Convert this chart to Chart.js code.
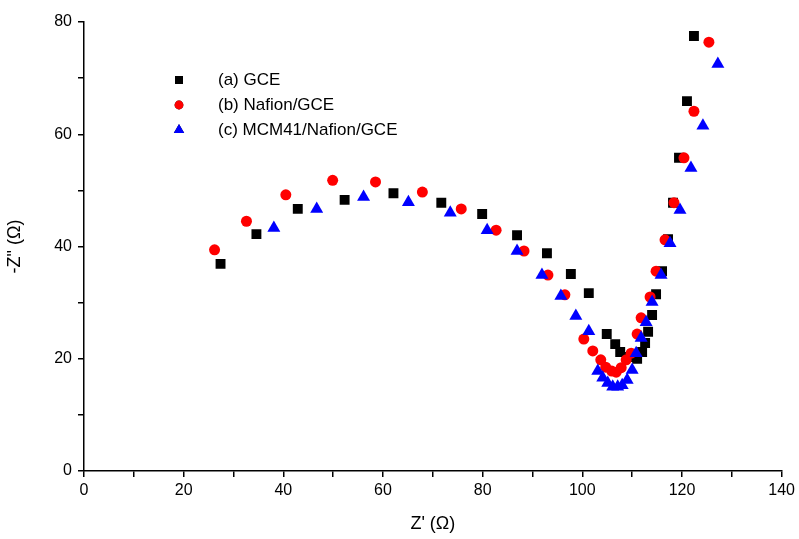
<!DOCTYPE html>
<html>
<head>
<meta charset="utf-8">
<script src="https://cdn.jsdelivr.net/npm/chart.js@4"></script>
<style>
  body { margin: 0; background: #fff; }
</style>
</head>
<body>
<canvas id="myChart" width="799" height="539"></canvas>
<script>
// Nyquist data (Z' and -Z'' in ohm)
const gceX = [27.4, 34.6, 42.9, 52.3, 62.1, 71.7, 79.9, 86.9, 92.9, 97.7, 101.3, 104.9, 106.6, 107.6, 109.4, 111.0, 112.0, 112.6, 113.2, 114.0, 114.8, 116.0, 117.2, 118.2, 119.4, 121.0, 122.4];
const gceY = [36.9, 42.2, 46.7, 48.3, 49.5, 47.8, 45.8, 42.0, 38.8, 35.1, 31.7, 24.4, 22.6, 21.2, 20.3, 20.0, 21.2, 22.8, 24.8, 27.8, 31.5, 35.6, 41.3, 47.8, 55.8, 65.9, 77.5];

const nafionX = [26.2, 32.6, 40.5, 49.9, 58.5, 67.9, 75.7, 82.7, 88.3, 93.1, 96.5, 100.3, 102.1, 103.7, 104.7, 105.9, 106.8, 107.8, 108.8, 109.8, 111.0, 111.8, 113.6, 114.8, 116.6, 118.4, 120.4, 122.4, 125.4];
const nafionY = [39.4, 44.5, 49.2, 51.8, 51.5, 49.7, 46.7, 42.9, 39.2, 34.9, 31.4, 23.5, 21.4, 19.8, 18.5, 17.8, 17.6, 18.4, 19.8, 21.0, 24.4, 27.3, 31.0, 35.6, 41.2, 47.8, 55.8, 64.1, 76.4];

const mcmX = [38.1, 46.7, 56.1, 65.1, 73.5, 80.9, 86.9, 91.9, 95.7, 98.7, 101.3, 103.1, 104.1, 105.1, 106.1, 107.1, 108.0, 109.0, 110.0, 110.8, 111.8, 112.8, 114.0, 115.8, 117.6, 119.6, 121.8, 124.2, 127.2];
const mcmY = [43.3, 46.7, 48.8, 47.9, 46.0, 42.9, 39.2, 34.9, 31.2, 27.6, 24.9, 17.8, 16.6, 15.7, 15.0, 15.0, 15.3, 16.2, 18.0, 21.0, 23.7, 26.5, 30.1, 34.9, 40.6, 46.5, 54.0, 61.5, 72.5];

const seriesLabels = ["(a) GCE", "(b) Nafion/GCE", "(c) MCM41/Nafion/GCE"];

const toPoints = (xs, ys) => xs.map((x, i) => ({ x: x, y: ys[i] }));

const ctx = document.getElementById('myChart').getContext('2d');

// legend drawn inside the plot, like the original figure
const innerLegend = {
    id: 'innerLegend',
    afterDraw(chart) {
        const c = chart.ctx;
        c.save();
        c.font = '17px "Liberation Sans", Arial, sans-serif';
        c.textBaseline = 'middle';
        seriesLabels.forEach((label, i) => {
            const ds = chart.data.datasets[i];
            const y = 80 + i * 25;
            Chart.helpers.drawPoint(c, {
                pointStyle: ds.pointStyle,
                radius: ds.pointRadius * 0.8,
                borderWidth: 0
            }, 179, y);
            c.fillStyle = ds.backgroundColor;
            c.fill();
            c.fillStyle = '#000';
            c.fillText(label, 218, y);
        });
        c.restore();
    }
};

const tickFont = { family: '"Liberation Sans", Arial, sans-serif', size: 16 };
const titleFont = { family: '"Liberation Sans", Arial, sans-serif', size: 18 };

const nyquistChart = new Chart(ctx, {
    type: 'scatter',
    data: {
        datasets: [
            {
                label: seriesLabels[0],
                data: toPoints(gceX, gceY),
                pointStyle: 'rect',
                pointRadius: 7,
                backgroundColor: '#000000',
                borderWidth: 0,
                order: 3
            },
            {
                label: seriesLabels[1],
                data: toPoints(nafionX, nafionY),
                pointStyle: 'circle',
                pointRadius: 5.5,
                backgroundColor: '#ff0000',
                borderWidth: 0,
                order: 2
            },
            {
                label: seriesLabels[2],
                data: toPoints(mcmX, mcmY),
                pointStyle: 'triangle',
                pointRadius: 7.5,
                backgroundColor: '#0000ff',
                borderWidth: 0,
                order: 1
            }
        ]
    },
    options: {
        responsive: false,
        animation: false,
        layout: { padding: { top: 22, right: 14, left: 0, bottom: 0 } },
        plugins: {
            legend: { display: false },
            tooltip: { enabled: false }
        },
        scales: {
            x: {
                type: 'linear',
                min: 0,
                max: 140,
                afterFit: scale => { scale.height = 68; },
                ticks: {
                    stepSize: 10,
                    color: '#000',
                    font: tickFont,
                    padding: 4,
                    maxRotation: 0,
                    autoSkip: false,
                    callback: v => (v % 20 === 0 ? v : '')
                },
                grid: { drawOnChartArea: false, tickLength: 6, color: '#000', lineWidth: 1.5 },
                border: { display: true, color: '#000', width: 1.5 },
                title: {
                    display: true,
                    text: "Z' (Ω)",
                    color: '#000',
                    font: titleFont,
                    padding: { top: 2 }
                }
            },
            y: {
                type: 'linear',
                min: 0,
                max: 80,
                afterFit: scale => { scale.width = 84; },
                ticks: {
                    stepSize: 10,
                    color: '#000',
                    font: tickFont,
                    padding: 6,
                    autoSkip: false,
                    callback: v => (v % 20 === 0 ? v : '')
                },
                grid: { drawOnChartArea: false, tickLength: 6, color: '#000', lineWidth: 1.5 },
                border: { display: true, color: '#000', width: 1.5 },
                title: {
                    display: true,
                    text: '-Z" (Ω)',
                    color: '#000',
                    font: titleFont,
                    padding: { bottom: 6 }
                }
            }
        }
    },
    plugins: [innerLegend]
});
</script>
</body>
</html>
